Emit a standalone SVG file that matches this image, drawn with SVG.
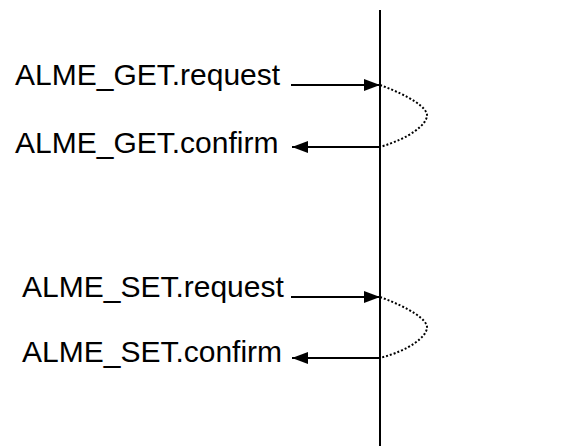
<svg xmlns="http://www.w3.org/2000/svg" width="566" height="446" viewBox="0 0 566 446">
<style>
  text { font-family: "Liberation Sans", Arial, sans-serif; font-size: 30px; fill: #000; }
  .ln { stroke: #000; stroke-width: 2; fill: none; }
  .dot { stroke: #000; stroke-width: 2; fill: none; stroke-dasharray: 2 2; }
</style>
<defs>
  <marker id="ahb" viewBox="0 0 16 12" refX="16" refY="6" markerWidth="16" markerHeight="12" markerUnits="userSpaceOnUse" orient="auto">
    <path d="M0,0 L16,6 L0,12 Z" fill="#000"/>
  </marker>
</defs>
<g id="lifeline"><line class="ln" x1="380" y1="10" x2="380" y2="446"/></g>
<g id="get-request"><text x="15" y="85">ALME_GET.request</text></g>
<g id="get-confirm"><text x="15" y="153">ALME_GET.confirm</text></g>
<g id="set-request"><text x="22" y="297">ALME_SET.request</text></g>
<g id="set-confirm"><text x="22" y="362">ALME_SET.confirm</text></g>
<g id="connectors">
  <line class="ln" x1="291" y1="85" x2="380" y2="85" marker-end="url(#ahb)"/>
  <line class="ln" x1="380" y1="147" x2="292" y2="147" marker-end="url(#ahb)"/>
  <path class="dot" d="M380,85 C410,96 428,108 427,116 C426,125 410,138 380,147"/>
  <line class="ln" x1="291" y1="297" x2="380" y2="297" marker-end="url(#ahb)"/>
  <line class="ln" x1="380" y1="358" x2="292" y2="358" marker-end="url(#ahb)"/>
  <path class="dot" d="M380,297 C410,308 428,320 427,328 C426,337 410,350 380,358"/>
</g>
</svg>
